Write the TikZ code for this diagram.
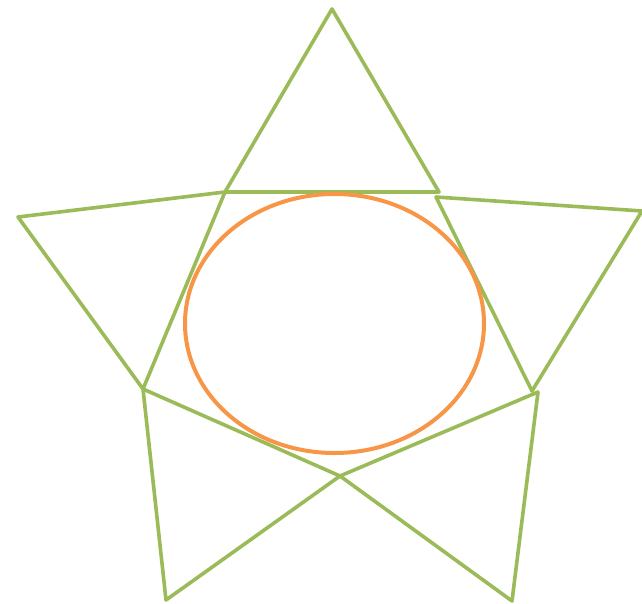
\documentclass[tikz,border=0pt]{standalone}
\definecolor{officegreen}{HTML}{9BBB59}
\definecolor{officeorange}{HTML}{F79646}
\begin{document}
\begin{tikzpicture}[x=1pt,y=-1pt,
  tri/.style={draw=officegreen,line width=3.6pt,line join=round},
  oval/.style={draw=officeorange,line width=4pt}]
\useasboundingbox (0,0) rectangle (642,604);
% vertices
\coordinate (apex) at (332,9);
\coordinate (tl) at (225,192);
\coordinate (tr) at (439,192);
\coordinate (lo) at (18,217);
\coordinate (lb) at (143,389);
\coordinate (rl) at (436,197);
\coordinate (ro) at (642,211);
\coordinate (rb) at (532,391);
\coordinate (brt) at (538,392);
\coordinate (bl) at (166,600);
\coordinate (br) at (512,601);
\coordinate (x) at (340,476);
% triangles
\draw[tri] (apex) -- (tl) -- (tr) -- cycle;
\draw[tri] (lo) -- (tl) -- (lb) -- cycle;
\draw[tri] (rl) -- (ro) -- (rb) -- cycle;
\draw[tri] (lb) -- (bl) -- (x) -- cycle;
\draw[tri] (brt) -- (br) -- (x) -- cycle;
% ellipse
\draw[oval] (334.5,323.5) ellipse [x radius=149.5, y radius=129.5];
\end{tikzpicture}
\end{document}
